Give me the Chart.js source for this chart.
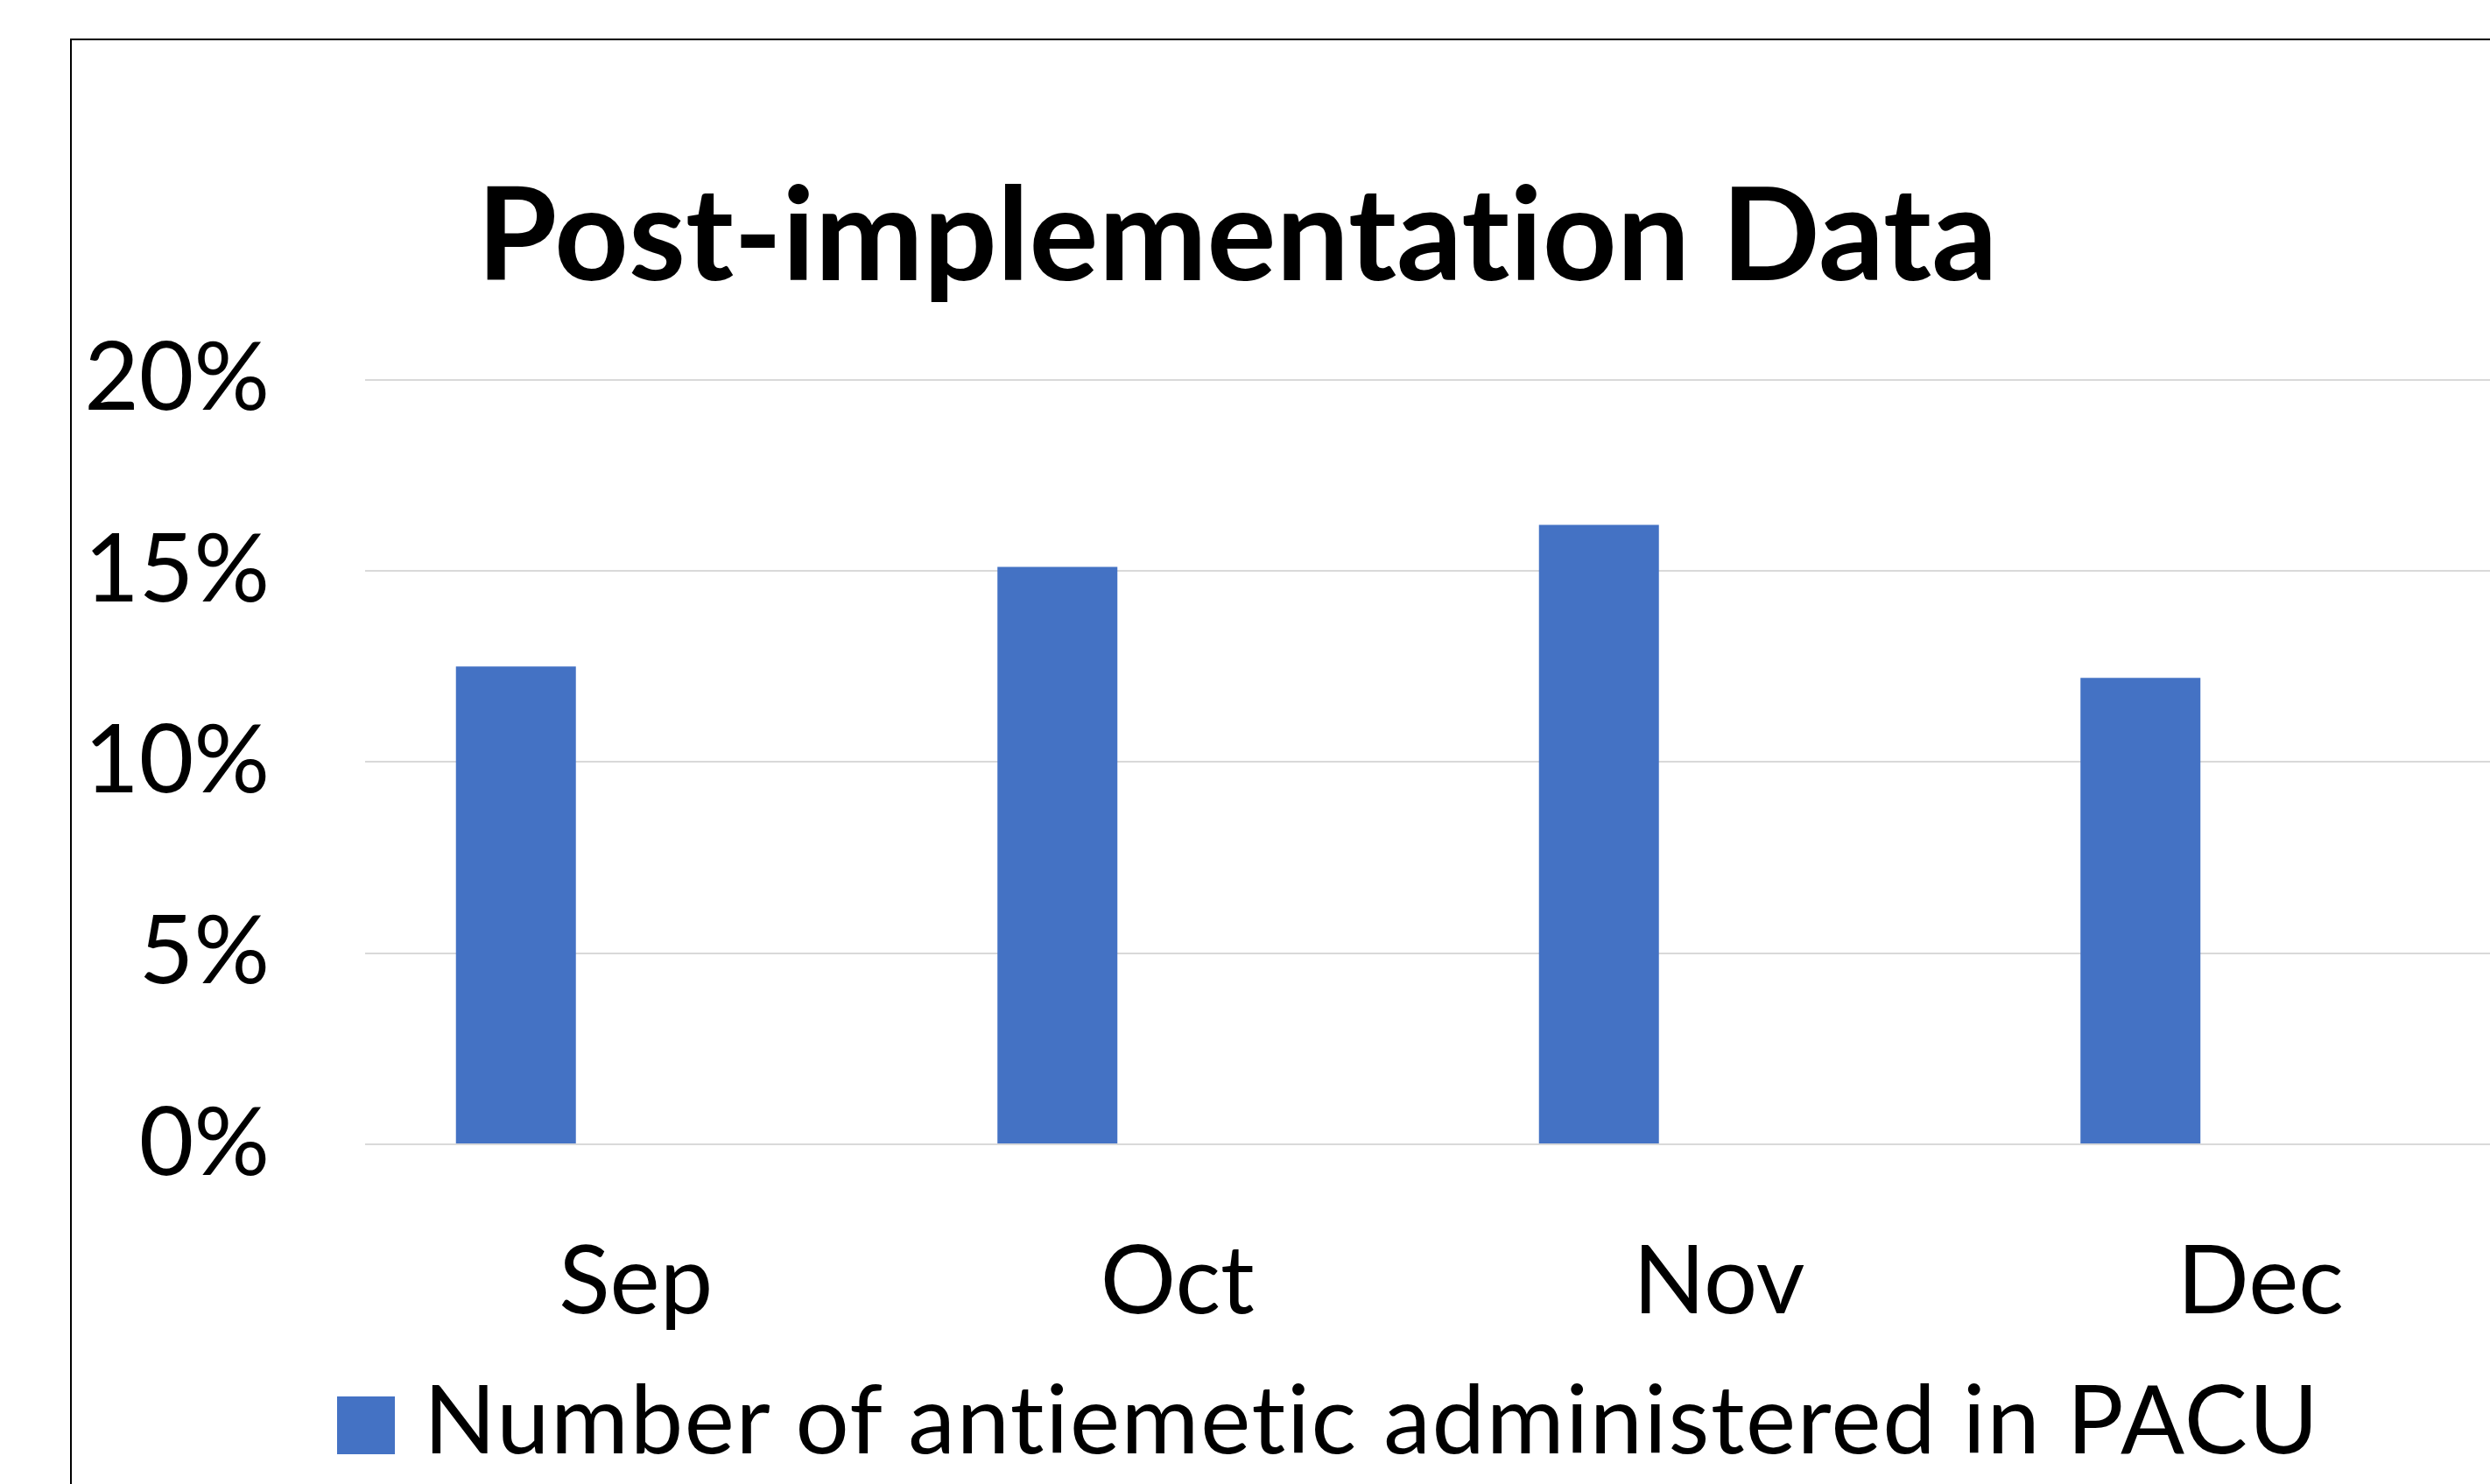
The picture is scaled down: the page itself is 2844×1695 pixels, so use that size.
<!DOCTYPE html>
<html lang="en">
<head>
<meta charset="UTF-8" />
<title>Post-implementation Data</title>
<script src="https://cdn.jsdelivr.net/npm/chart.js"></script>
<style>
  html, body { margin: 0; padding: 0; background: #fff; overflow: hidden; width: 2844px; height: 1695px; }
  .frame { position: absolute; left: 80px; top: 44px; width: 3000px; height: 2000px; border: 2px solid #000; }
  #chart { position: absolute; left: -65px; top: 0; }
  #legend { position: absolute; left: 385px; top: 1564px; margin: 0; padding: 0; list-style: none;
            font-family: Lato, sans-serif; font-size: 108px; line-height: 108px; color: #000; white-space: nowrap;
            font-variant-ligatures: none; letter-spacing: 1.7px; }
  #legend li { position: relative; padding-left: 99px; }
  #legend .box { position: absolute; left: 0; top: 31px; width: 66px; height: 66px; }
</style>
</head>
<body>
<div class="frame"></div>
<canvas id="chart" width="2956" height="1695"></canvas>
<ul id="legend"></ul>
<script>
    const months = ['Sep', 'Oct', 'Nov', 'Dec'];
    const antiemeticPct = [12.5, 15.1, 16.2, 12.2];
    // original is a clustered chart with room for two more series that stay empty
    const emptySeries = [null, null, null, null];
    const yTicks = [0, 5, 10, 15, 20];
    const seriesName = 'Number of antiemetic administered in PACU';
    const chartTitle = 'Post-implementation Data';

    const labelFont = { family: 'Lato', size: 108, lineHeight: 1.2 };

    // legend is drawn as html so it can sit where the original one sits
    const htmlLegend = {
        id: 'htmlLegend',
        afterUpdate(chart) {
            const ul = document.getElementById('legend');
            ul.innerHTML = '';
            const items = Chart.defaults.plugins.legend.labels.generateLabels(chart)
                .filter(item => item.datasetIndex === 0);
            items.forEach(item => {
                const li = document.createElement('li');
                const box = document.createElement('span');
                box.className = 'box';
                box.style.background = item.fillStyle;
                li.appendChild(box);
                li.appendChild(document.createTextNode(item.text));
                ul.appendChild(li);
            });
        }
    };

    // no "ti" ligature in the title, like the original
    const noLigatures = {
        id: 'noLigatures',
        beforeDraw(chart) {
            chart.ctx.textRendering = 'optimizeSpeed';
        }
    };

    const ctx = document.getElementById('chart').getContext('2d');
    new Chart(ctx, {
        type: 'bar',
        data: {
            labels: months,
            datasets: [
                { label: seriesName, data: antiemeticPct, backgroundColor: '#4472C4', borderWidth: 0 },
                { label: 'spacer 1', data: emptySeries, backgroundColor: '#ED7D31' },
                { label: 'spacer 2', data: emptySeries, backgroundColor: '#A5A5A5' }
            ]
        },
        plugins: [htmlLegend, noLigatures],
        options: {
            responsive: false,
            animation: false,
            layout: { padding: { left: 0, right: 0, top: 0, bottom: 89 } },
            datasets: { bar: { categoryPercentage: 0.6645, barPercentage: 1 } },
            plugins: {
                title: {
                    display: true,
                    text: chartTitle,
                    color: '#000',
                    font: { family: 'Lato', size: 148, weight: 'bold', lineHeight: 1.2 },
                    padding: { top: 183, bottom: 73 }
                },
                legend: { display: false },
                tooltip: { enabled: false }
            },
            scales: {
                x: {
                    grid: { display: false },
                    border: { display: false },
                    ticks: { color: '#000', font: labelFont, padding: 85, maxRotation: 0, autoSkip: false },
                    afterFit: s => { s.height = 299; }
                },
                y: {
                    min: 0,
                    max: 20,
                    grid: { color: '#d9d9d9', lineWidth: 2, drawTicks: false },
                    border: { display: false },
                    ticks: { color: '#000', font: labelFont, padding: 109, callback: v => v + '%' },
                    afterBuildTicks: s => { s.ticks = yTicks.map(v => ({ value: v })); },
                    afterFit: s => { s.width = 482; }
                }
            }
        }
    });
</script>
</body>
</html>
